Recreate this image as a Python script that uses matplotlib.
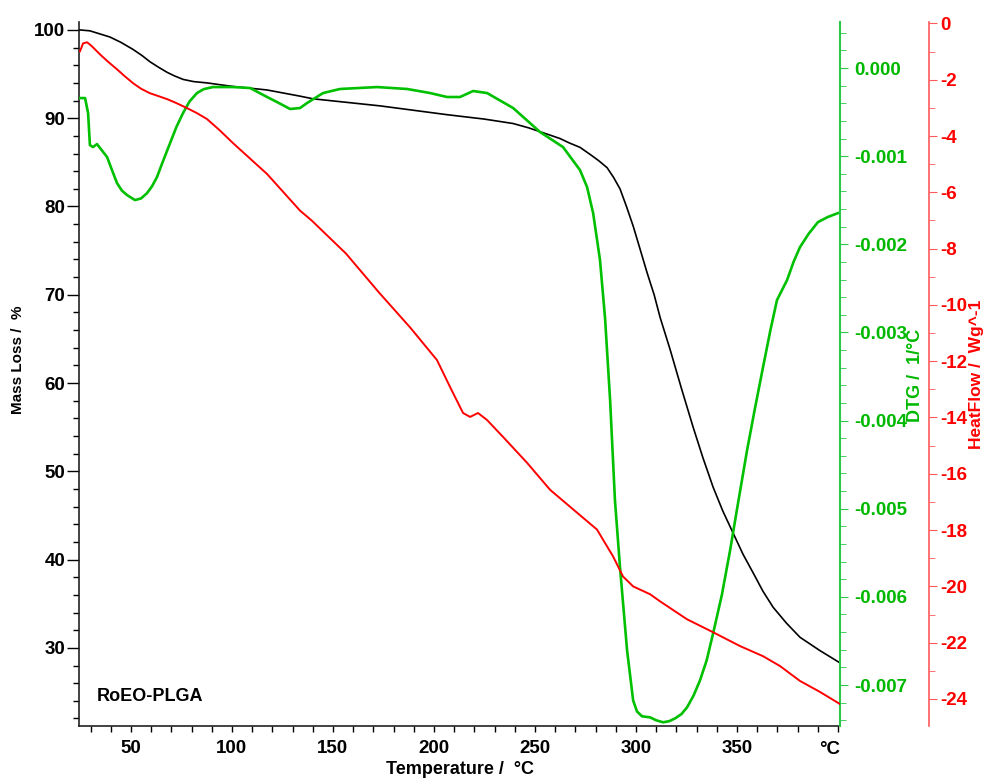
import matplotlib
matplotlib.use("Agg")
import matplotlib.pyplot as plt
from matplotlib.ticker import MultipleLocator, FixedLocator, FormatStrFormatter

plt.rcParams['font.family'] = ['Liberation Sans', 'DejaVu Sans']
plt.rcParams['font.weight'] = 'bold'
plt.rcParams['axes.unicode_minus'] = False

# mass loss (TG) curve
temp_mass = [24.8, 29.7, 39.6, 45.0, 51.0, 55.5, 59.4, 63.5, 67.9, 71.5, 75.8, 81.0, 87.7,
             94.0, 100.5, 117.4, 133.7, 140.1, 173.3, 206.5, 225.0, 239.2, 247.0, 256.0,
             262.4, 267.0, 272.3, 277.3, 281.5, 285.7, 288.9, 292.1, 295.3, 298.6, 302.0,
             305.5, 309.0, 312.0, 316.9, 322.5, 328.3, 333.2, 338.2, 343.0, 348.1, 353.0,
             358.0, 362.9, 367.9, 374.5, 381.2, 391.0, 401.0]
mass = [100.0, 99.9, 99.2, 98.6, 97.8, 97.1, 96.4, 95.8, 95.2, 94.8, 94.4, 94.15, 94.0,
        93.8, 93.6, 93.2, 92.5, 92.2, 91.4, 90.4, 89.9, 89.4, 88.9, 88.2,
        87.7, 87.2, 86.7, 85.9, 85.2, 84.4, 83.3, 82.0, 80.0, 77.8, 75.2,
        72.5, 70.0, 67.4, 63.8, 59.4, 55.0, 51.5, 48.2, 45.5, 43.0, 40.6,
        38.5, 36.4, 34.6, 32.8, 31.2, 29.7, 28.3]

# DTG curve (1/°C)
temp_dtg = [24.8, 27.3, 28.8, 29.7, 31.2, 33.2, 38.2, 40.5, 43.1, 45.5, 48.1, 52.0, 55.0,
            58.0, 60.5, 62.9, 66.0, 69.4, 72.5, 75.8, 79.0, 82.7, 86.0, 90.6, 100.5, 109.0,
            117.4, 122.3, 128.8, 133.7, 137.2, 145.1, 153.5, 171.8, 186.7, 198.1, 206.5,
            212.9, 219.4, 226.3, 239.2, 252.5, 263.9, 272.3, 275.8, 278.8, 282.2, 284.7,
            287.2, 289.6, 292.1, 295.6, 298.6, 300.5, 303.0, 307.0, 310.0, 313.4, 316.5,
            319.4, 322.5, 325.3, 328.5, 331.7, 335.0, 338.2, 342.5, 346.6, 350.8, 355.0,
            359.0, 362.9, 366.5, 369.8, 374.8, 378.0, 381.2, 385.5, 390.1, 395.0, 400.0]
dtg = [-0.000341, -0.000341, -0.000511, -0.000874, -0.000897, -0.000863, -0.001010,
       -0.001150, -0.001305, -0.001390, -0.001442, -0.001498, -0.001480, -0.001419,
       -0.001340, -0.001237, -0.001050, -0.000851, -0.000670, -0.000511, -0.000380,
       -0.000284, -0.000240, -0.000216, -0.000216, -0.000227, -0.000329, -0.000386,
       -0.000465, -0.000454, -0.000397, -0.000284, -0.000238, -0.000216, -0.000238,
       -0.000284, -0.000329, -0.000329, -0.000261, -0.000284, -0.000454, -0.000726,
       -0.000897, -0.001158, -0.001351, -0.001646, -0.002179, -0.002838, -0.003768,
       -0.004904, -0.005664, -0.006606, -0.007174, -0.007300, -0.007355, -0.007367,
       -0.007400, -0.007423, -0.007410, -0.007378, -0.007330, -0.007253, -0.007120,
       -0.006947, -0.006720, -0.006413, -0.005980, -0.005471, -0.004900, -0.004336,
       -0.003850, -0.003394, -0.002980, -0.002633, -0.002406, -0.002200, -0.002032,
       -0.001880, -0.001748, -0.001690, -0.001646]

# heat flow curve (W/g)
temp_hf = [24.8, 26.3, 28.3, 30.5, 34.7, 38.5, 43.1, 47.0, 51.0, 55.0, 59.4, 63.5, 67.9,
           72.5, 77.8, 82.5, 87.7, 94.0, 100.5, 117.4, 133.7, 139.6, 156.5, 172.8, 188.2,
           201.5, 208.0, 214.4, 217.9, 221.8, 226.3, 234.2, 246.1, 257.5, 270.8, 280.7,
           288.7, 293.6, 298.6, 307.0, 311.9, 325.3, 338.2, 351.5, 362.9, 371.3, 381.2,
           391.1, 401.0]
heatflow = [-0.99, -0.71, -0.67, -0.80, -1.10, -1.35, -1.63, -1.88, -2.12, -2.32, -2.48,
            -2.58, -2.69, -2.83, -3.01, -3.18, -3.40, -3.80, -4.25, -5.35, -6.65, -7.01,
            -8.18, -9.56, -10.80, -11.96, -12.92, -13.84, -13.98, -13.84, -14.09, -14.69,
            -15.61, -16.57, -17.38, -17.98, -18.94, -19.65, -20.00, -20.28, -20.53,
            -21.17, -21.63, -22.12, -22.48, -22.83, -23.36, -23.75, -24.18]

x_ticks = [50, 100, 150, 200, 250, 300, 350, 400]
x_labels = ['50', '100', '150', '200', '250', '300', '350', '']

GREEN = '#00C000'
GREEN_TXT = '#00B800'
GREEN_SPINE = '#2CC84A'
RED = '#FF0000'
RED_SPINE = '#FF5A5A'
FS = 13.5

fig = plt.figure(figsize=(9.86, 7.78), dpi=100)
ax = fig.add_axes([79/986, 1 - 726/778, 761/986, 704/778])
ax2 = ax.twinx()
ax3 = ax.twinx()

ax.plot(temp_mass, mass, color='black', lw=1.2, zorder=3)
ax2.plot(temp_dtg, dtg, color=GREEN, lw=1.9)
ax3.plot(temp_hf, heatflow, color=RED, lw=1.4)

# main axis
ax.set_xlim(24.3, 401)
ax.set_ylim(21.15, 100.9)
ax.xaxis.set_major_locator(FixedLocator(x_ticks))
ax.set_xticklabels(x_labels)
ax.xaxis.set_minor_locator(MultipleLocator(10))
ax.yaxis.set_major_locator(MultipleLocator(10))
ax.yaxis.set_minor_locator(MultipleLocator(2))
ax.tick_params(axis='x', which='both', length=4, width=1, pad=6, labelsize=FS)
ax.tick_params(axis='y', which='major', length=9, width=1, pad=1, labelsize=FS)
ax.tick_params(axis='y', which='minor', length=4, width=1)
for s in ['top', 'right']:
    ax.spines[s].set_visible(False)
for s in ['left', 'bottom']:
    ax.spines[s].set_color('#222222')
    ax.spines[s].set_linewidth(1.2)
for lab in ax.get_xticklabels() + ax.get_yticklabels():
    lab.set_fontweight('bold')

# DTG axis
ax2.set_ylim(-0.007465, 0.000522)
ax2.yaxis.set_major_locator(MultipleLocator(0.001))
ax2.yaxis.set_minor_locator(MultipleLocator(0.0002))
ax2.yaxis.set_major_formatter(FormatStrFormatter('%.3f'))
ax2.tick_params(axis='y', which='major', length=6, pad=4, colors=GREEN_SPINE,
                labelcolor=GREEN_TXT, labelsize=FS)
ax2.tick_params(axis='y', which='minor', length=4, colors=GREEN_SPINE)
for s in ['top', 'left', 'bottom']:
    ax2.spines[s].set_visible(False)
ax2.spines['right'].set_color(GREEN_SPINE)
ax2.spines['right'].set_linewidth(1.5)
for lab in ax2.get_yticklabels():
    lab.set_fontweight('bold')

# heat flow axis
ax3.spines['right'].set_position(('axes', 850/761))
ax3.set_ylim(-24.96, 0.05)
ax3.yaxis.set_major_locator(MultipleLocator(2))
ax3.yaxis.set_minor_locator(MultipleLocator(1))
ax3.tick_params(axis='y', which='major', length=6, pad=2, colors=RED_SPINE,
                labelcolor=RED, labelsize=FS)
ax3.tick_params(axis='y', which='minor', length=4, colors=RED_SPINE)
for s in ['top', 'left', 'bottom']:
    ax3.spines[s].set_visible(False)
ax3.spines['right'].set_color(RED_SPINE)
ax3.spines['right'].set_linewidth(1.2)
for lab in ax3.get_yticklabels():
    lab.set_fontweight('bold')

# labels
ax.text(1.0, -0.022, '°C', transform=ax.transAxes, ha='right', va='top',
        fontsize=FS, fontweight='bold')
fig.text(460/986, 1 - 769/778, 'Temperature /  °C', ha='center', va='center',
         fontsize=13, fontweight='bold')
fig.text(18/986, 1 - 360/778, 'Mass Loss /  %', ha='center', va='center',
         rotation=90, fontsize=11, fontweight='bold')
fig.text(915/986, 1 - 375/778, 'DTG /  1/°C', ha='center', va='center',
         rotation=90, fontsize=13, fontweight='bold', color=GREEN_TXT)
fig.text(976/986, 1 - 374/778, 'HeatFlow /  Wg^-1', ha='center', va='center',
         rotation=90, fontsize=12.5, fontweight='bold', color=RED)
ax.text(0.0237, 0.0412, 'RoEO-PLGA', transform=ax.transAxes, ha='left', va='center',
        fontsize=13, fontweight='bold')

fig.savefig('out.png', dpi=100)
